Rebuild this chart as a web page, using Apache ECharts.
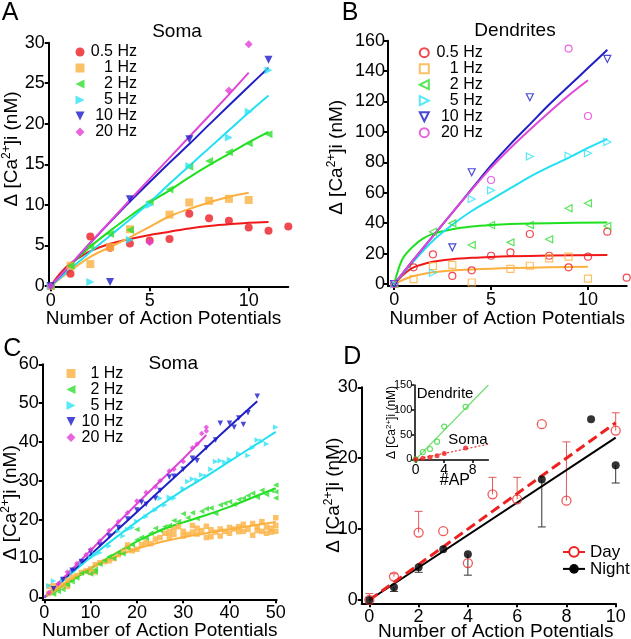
<!DOCTYPE html>
<html><head><meta charset="utf-8">
<script src="https://cdn.jsdelivr.net/npm/echarts@6/dist/echarts.min.js"></script>
<style>html,body{margin:0;padding:0;background:#fff}#c{width:631px;height:639px}</style>
</head><body><div id="c"></div>
<script>
// ---------- Panel A (soma, 0-12 APs) ----------
const freqLabels = ['0.5 Hz', '1 Hz', '2 Hz', '5 Hz', '10 Hz', '20 Hz'];
const a05 = [[0,0],[1,1.5],[2,6.1],[3,4.7],[4,5.25],[5,5.6],[6,5.8],[7,8.9],[8,8.35],[9,8.05],[10,7.2],[11,6.8],[12,7.35]];
const a1 = [[0,0],[1,2.5],[2,2.7],[3,4.8],[4,7.0],[6,8.8],[7,10.3],[8,10.5],[9,10.75],[10,10.6]];
const a2 = [[0,0],[1,2.5],[2,4.9],[3,6.4],[4,6.9],[5,10.4],[6,11.9],[7,14.7],[8,15.4],[9,16.5],[10,17.6],[11,18.7]];
const a5 = [[0,0],[2,0.5],[4,5.7],[5,10.0],[7,14.8],[9,18.3],[10,21.5],[11,26.6]];
const a10 = [[0,0],[3,0.5],[4,10.7],[7,18.1],[11,27.9]];
const a20 = [[0,0],[5,5.4],[9,24.1],[10,29.8]];
const fitA05 = [[0,0],[0.5,1.6],[1,2.8],[1.5,3.6],[2,4.3],[3,5.2],[4,5.8],[5,6.3],[6,6.7],[7,7.1],[8,7.4],[9,7.6],[10,7.8],[11,7.9]];
const fitA1 = [[0,0],[1,1.9],[2,3.6],[3,4.8],[4,6.0],[5,7.3],[6,8.6],[7,9.5],[8,10.3],[9,11.0],[10,11.5]];
const fitA2 = [[0,0],[1,2.6],[2,4.85],[3,6.8],[4,8.6],[5,10.3],[6,11.8],[7,13.4],[8,14.9],[9,16.3],[10,17.7],[11,19.0]];
const fitA5 = [[0,0],[1,2.1],[2,4.2],[3,6.2],[4,8.2],[5,10.3],[6,12.6],[7,14.8],[8,17.0],[9,19.2],[10,21.4],[11,23.5]];
const fitA10 = [[0,0],[1,2.6],[2,5.3],[4,10.4],[6,15.2],[7,17.5],[8,19.9],[10,24.6],[11,26.9]];
const fitA20 = [[0,0],[2,5.3],[4,10.6],[5,13.2],[7,18.4],[9,23.6],[10,26.3]];

// ---------- Panel B (dendrites) ----------
const b05 = [[0,0],[1,11.0],[2,19.5],[3,5.3],[4,9.0],[5,18.6],[6,20.8],[7,32.9],[8,18.6],[9,11.0],[10,18.0],[11,34.4],[12,4.2]];
const b1 = [[0,0],[1,3.2],[2,11.8],[3,12.6],[4,1.0],[6,10.0],[7,12.0],[8,16.8],[9,18.0],[10,3.5]];
const b2 = [[0,0],[2,34.4],[3,39.9],[4,25.7],[5,38.8],[6,27.4],[7,38.8],[8,29.4],[9,49.8],[10,53.1],[11,38.2]];
const b5 = [[0,0],[2,7.4],[4,55.9],[5,61.6],[7,83.8],[9,84.4],[10,86.0],[11,93.4]];
const b10 = [[0,0],[3,24.1],[4,73.5],[7,122.8],[11,148]];
const b20 = [[0,0],[5,68.4],[9,154.8],[10,110.5]];
const fitB05 = [[0,0],[0.5,6.5],[1,11],[2,14.7],[3,16.3],[4,17.2],[5,17.8],[6,18.2],[8,18.7],[11,19.1]];
const fitB1 = [[0,0],[0.5,3],[1,5.3],[2,7.7],[3,8.9],[4,9.6],[5,10.1],[6,10.5],[8,11],[10,11.4]];
const fitB2 = [[0,0],[0.25,11],[0.5,18],[1,25],[1.5,30],[2,33],[3,36],[4,37.8],[5,38.8],[6,39.4],[8,40],[11,40.5]];
const fitB5 = [[0,0],[1,15],[2,28.5],[3,39],[4,48],[5,55.5],[6,63],[7,70.5],[8,77],[9,83],[10,89.5],[11,95.5]];
const fitB10 = [[0,0],[1,16],[2,31.5],[3,47],[4,62.5],[5,78],[6,92],[7,105],[8,118],[9,130],[10,142],[11,154]];
const fitB20 = [[0,0],[1,16],[2,31.5],[3,47],[4,62],[5,76.5],[6,89.5],[7,101.5],[8,113],[9,124],[10,134]];

// ---------- Panel C (soma, 0-50 APs) ----------
const c1 = [[1,1.0],[1,2.8],[2,1.5],[2,3.0],[3,2.4],[4,3.2],[5,2.8],[5,4.4],[6,5.2],[7,5.6],[8,6.4],[9,6.8],[10,6.4],[10,7.3],[11,6.6],[11,8.4],[12,8.9],[13,9.2],[14,9.4],[15,10.0],[16,11.0],[17,11.8],[18,12.8],[18,13.5],[19,12.0],[20,12.4],[21,13.6],[22,14.2],[23,13.8],[24,15.0],[25,15.4],[26,16.5],[27,17.0],[27,15.6],[28,17.6],[28,16.2],[29,18.2],[30,17.0],[30,15.8],[31,16.2],[32,18.5],[32,16.8],[33,17.8],[33,16.3],[34,17.2],[35,18.3],[35,15.4],[36,15.6],[36,17.4],[37,16.8],[38,17.6],[38,15.8],[39,17.0],[40,18.0],[40,16.5],[41,17.6],[42,18.2],[42,16.9],[43,17.0],[43,18.8],[44,17.5],[45,19.0],[45,16.0],[46,18.2],[46,17.2],[47,17.0],[47,19.5],[48,16.5],[48,18.1],[49,17.8],[49,16.8],[50,20.5],[50,18.5],[50,17.0]];
const c2 = [[2,0.8],[3,1.5],[4,2.0],[5,3.2],[6,4.0],[7,5.0],[8,6.2],[9,6.5],[10,6.0],[11,6.5],[11,7.2],[12,8.5],[13,9.5],[14,10.5],[15,10.0],[16,11.5],[17,11.2],[18,12.8],[19,13.5],[20,17.5],[20,14.8],[21,15.5],[22,15.2],[23,16.5],[24,17.8],[25,17.2],[26,18.2],[27,18.5],[28,19.8],[29,19.5],[30,21.5],[31,20.5],[32,21.8],[33,20.3],[34,22.2],[35,22.8],[36,23.0],[37,21.6],[38,23.8],[39,24.2],[40,24.6],[41,24.0],[42,25.2],[43,25.5],[44,26.2],[45,26.8],[46,25.8],[47,27.6],[48,26.5],[49,27.5],[50,28.9],[50,27.2],[50,25.6]];
const c5 = [[1,3.0],[2,4.2],[4,4.5],[6,6.5],[8,8.5],[10,10.2],[11,11.0],[12,11.5],[14,13.2],[16,17.0],[17,15.8],[18,17.5],[19,18.0],[20,19.5],[22,20.8],[24,22.5],[25,25.5],[26,23.8],[27,25.8],[28,25.5],[30,28.0],[31,29.8],[32,30.5],[33,30.2],[34,31.5],[35,31.2],[36,33.0],[37,35.0],[38,35.2],[39,34.8],[40,35.5],[42,37.0],[44,36.5],[45,38.5],[46,40.5],[47,40.2],[48,39.5],[50,43.8]];
const c10 = [[2,2.2],[4,4.6],[6,7.0],[8,9.2],[10,11.8],[12,13.5],[14,15.8],[16,18.0],[18,20.2],[20,22.5],[21,24.5],[22,24.0],[24,25.5],[25,27.5],[27,31.0],[28,31.2],[30,33.0],[32,35.8],[33,35.2],[35,38.5],[37,40.5],[38,44.8],[40,44.8],[41,43.8],[42,46.2],[43,44.5],[44,47.5],[46,51.8]];
const c20 = [[1,1.2],[3,3.5],[5,6.5],[7,8.7],[9,11.0],[10,12.3],[12,14.5],[14,17.2],[16,19.5],[18,21.8],[20,24.8],[22,27.0],[24,28.5],[25,30.0],[27,32.5],[28,33.0],[30,35.0],[32,38.5],[33,39.5],[34,42.2],[35,43.8],[35,42.8]];
const fitC1 = [[0,0],[5,4.0],[10,7.6],[15,10.3],[20,12.5],[25,14.2],[30,15.5],[35,16.5],[40,17.5],[45,18.5],[50,19.4]];
const fitC2 = [[0,0],[5,3.6],[10,7.4],[15,11.0],[20,14.4],[25,17.2],[30,19.3],[35,21.2],[40,23.3],[45,25.7],[50,28.1]];
const fitC5 = [[0,0],[10,10.3],[20,19.5],[25,23.6],[30,27.6],[35,31.2],[40,35.0],[45,38.8],[50,42.6]];
const fitC10 = [[0,0],[10,11],[20,22],[30,33],[40,44],[46,50.5]];
const fitC20 = [[0,0],[10,12.1],[20,24.1],[30,35.7],[35,41.8]];

// ---------- Panel D (day / night) ----------
const dayPts = [[0,0],[1,3.3],[2,9.5],[3,9.7],[4,5.2],[5,14.9],[6,14.2],[7,24.8],[8,14.0],[10,23.9]];
const nightPts = [[0,0],[1,1.8],[2,4.6],[3,7.15],[4,6.45],[7,17.0],[9,25.5],[10,19.0]];
const dayErr = [[0,0,0.9],[1,3.3,3.7],[2,9.5,12.5],[5,14.9,17.3],[6,14.2,17.3],[8,14.0,22.3],[10,23.9,26.4]];
const nightErr = [[1,1.8,1.2],[2,4.6,3.9],[4,6.45,3.5],[7,17.0,10.3],[10,19.0,16.5]];
const dayFit = [[0,0],[10,25.0]];
const nightFit = [[0,0],[10,22.9]];
// inset
const dendPts = [[0,0],[1,14.7],[2,20.8],[3,35.6],[4,66],[7,106]];
const somaPts = [[0,0],[1,2],[2,4],[3,7],[4,11.5],[7,23]];
const dendFit = [[0,0],[10.2,150]];
const somaFit = [[0,0],[10.2,30.5]];

// tick values
const ticksA_x = [0,5,10], ticksA_y = [0,5,10,15,20,25,30];
const ticksB_x = [0,5,10], ticksB_y = [0,20,40,60,80,100,120,140,160];
const ticksC_x = [0,10,20,30,40,50], ticksC_y = [0,10,20,30,40,50,60];
const ticksD_x = [0,2,4,6,8,10], ticksD_y = [0,10,20,30];
const ticksI_x = [0,4,8], ticksI_y = [0,50,100,150];

// ---------- styling ----------
const F = 'Liberation Sans, Arial, Helvetica, sans-serif';
const COL = {red:'#EE1C24', org:'#FBB040', grn:'#2EDE2E', cyn:'#2EE4F4', blu:'#1C1CCC', mag:'#E23ED8'};
const LCOL = {red:'#F01818', org:'#FBB040', grn:'#1EE01E', cyn:'#22E0F2', blu:'#2020C4', mag:'#DE48D6'};
const freqKeys = ['red','org','grn','cyn','blu','mag'];
const TRI_L = 'path://M0,5L10,0L10,10Z';
const TRI_R = 'path://M10,5L0,0L0,10Z';
const TRI_D = 'path://M0,0L10,0L5,10Z';
const symA = ['circle', 'rect', TRI_L, TRI_R, TRI_D, 'diamond'];
const symB = ['circle', 'rect', TRI_L, TRI_R, TRI_D, 'circle'];

const yName = (fs, ss, lh) => ({
  rich: {
    t: {fontSize: fs, fontFamily: F, color: '#000', lineHeight: lh},
    s: {fontSize: ss, fontFamily: F, color: '#000', verticalAlign: 'top'}
  }
});
const Y_NAME = '{t|Δ [Ca}{s|2+}{t|]i (nM)}';

function axis(grid, min, max, ticks, o) {
  o = o || {};
  const ax = {
    type: 'value', gridIndex: grid, min: min, max: max,
    axisLine: {show: true, onZero: false, lineStyle: {color: '#000', width: o.lw || 2}},
    axisTick: {show: true, inside: false, length: o.tl || 4, customValues: ticks, lineStyle: {color: '#000', width: o.lw || 2}},
    axisLabel: {customValues: ticks, fontSize: o.fs || 18, fontFamily: F, color: '#000', margin: o.margin == null ? 5 : o.margin},
    splitLine: {show: false},
    nameMoveOverlap: false
  };
  if (o.name) {
    ax.name = o.name;
    ax.nameLocation = 'middle';
    ax.nameGap = o.gap;
    ax.nameTextStyle = o.nts || {fontSize: 19, fontFamily: F, color: '#000', padding: o.pad || 0};
    if (o.pad && o.nts) ax.nameTextStyle.padding = o.pad;
  }
  return ax;
}

function sc(name, data, g, color, sym, size, open) {
  return {
    type: 'scatter', name: name, data: data, xAxisIndex: g, yAxisIndex: g,
    symbol: sym, symbolSize: size, z: 4, silent: true,
    itemStyle: open ? {color: 'rgba(255,255,255,0)', borderColor: color, borderWidth: 1.2} : {color: color}
  };
}
function ln(name, data, g, color, width, type, smooth) {
  return {
    type: 'line', name: name, data: data, xAxisIndex: g, yAxisIndex: g,
    symbol: 'none', showSymbol: false, smooth: smooth == null ? 0.3 : smooth, z: 3, silent: true,
    lineStyle: {color: color, width: width, type: type || 'solid'}
  };
}
function errBar(color, w) {
  return function (params, api) {
    const x = api.value(0), y0 = api.value(1), y1 = api.value(2);
    const p0 = api.coord([x, y0]), p1 = api.coord([x, y1]);
    return {type: 'group', children: [
      {type: 'line', shape: {x1: p0[0], y1: p0[1], x2: p1[0], y2: p1[1]}, style: {stroke: color, lineWidth: w}},
      {type: 'line', shape: {x1: p1[0] - 4, y1: p1[1], x2: p1[0] + 4, y2: p1[1]}, style: {stroke: color, lineWidth: w}}
    ]};
  };
}
function legendFor(names, left, top, gapH, textW, fs) {
  return {
    show: true, orient: 'vertical', left: left, top: top, padding: 0,
    itemWidth: 9, itemHeight: 9, itemGap: 0, selectedMode: false, data: names,
    formatter: n => '{r|' + n.split('|')[1] + '}',
    textStyle: {fontSize: fs, fontFamily: F, color: '#000', lineHeight: gapH,
      rich: {r: {width: textW, align: 'right', fontSize: fs, fontFamily: F, color: '#000', lineHeight: gapH}}}
  };
}

const series = [];
// A
const aData = [a05, a1, a2, a5, a10, a20];
const aFit = [fitA05, fitA1, fitA2, fitA5, fitA10, fitA20];
aFit.forEach((d, i) => series.push(ln('fitA' + i, d, 0, LCOL[freqKeys[i]], 2)));
aData.forEach((d, i) => series.push(sc('A|' + freqLabels[i], d, 0, COL[freqKeys[i]], symA[i], 8, false)));
// B
const bData = [b05, b1, b2, b5, b10, b20];
const bFit = [fitB05, fitB1, fitB2, fitB5, fitB10, fitB20];
bFit.forEach((d, i) => series.push(ln('fitB' + i, d, 1, LCOL[freqKeys[i]], 2)));
bData.forEach((d, i) => series.push(sc('B|' + freqLabels[i], d, 1, COL[freqKeys[i]], symB[i], 7, true)));
// C
const cData = [c1, c2, c5, c10, c20];
const cFit = [fitC1, fitC2, fitC5, fitC10, fitC20];
cData.forEach((d, i) => series.push(sc('C|' + freqLabels[i + 1], d, 2, COL[freqKeys[i + 1]], symA[i + 1], 5.5, false)));
cFit.forEach((d, i) => series.push(ln('fitC' + i, d, 2, LCOL[freqKeys[i + 1]], 2)));
// D
series.push({type: 'custom', name: 'dayErr', xAxisIndex: 3, yAxisIndex: 3, data: dayErr, renderItem: errBar('#E05A5A', 1), encode: {x: 0, y: [1, 2]}, z: 2, silent: true});
series.push({type: 'custom', name: 'nightErr', xAxisIndex: 3, yAxisIndex: 3, data: nightErr, renderItem: errBar('#333', 1), encode: {x: 0, y: [1, 2]}, z: 2, silent: true});
series.push({type: 'line', name: 'Night', data: nightFit, xAxisIndex: 3, yAxisIndex: 3, symbol: 'circle', symbolSize: 8, showSymbol: false, z: 3, silent: true,
  lineStyle: {color: '#000', width: 2}, itemStyle: {color: '#000'}});
series.push({type: 'line', name: 'Day', data: dayFit, xAxisIndex: 3, yAxisIndex: 3, symbol: 'circle', symbolSize: 8, showSymbol: false, z: 3, silent: true,
  lineStyle: {color: '#EE2020', width: 3, type: [10, 5]}, itemStyle: {color: '#fff', borderColor: '#EE2020', borderWidth: 1.5}});
series.push({type: 'scatter', name: 'nightPts', data: nightPts, xAxisIndex: 3, yAxisIndex: 3, symbol: 'circle', symbolSize: 8, z: 4, silent: true, itemStyle: {color: '#000'}});
series.push({type: 'scatter', name: 'dayPts', data: dayPts, xAxisIndex: 3, yAxisIndex: 3, symbol: 'circle', symbolSize: 9, z: 5, silent: true,
  itemStyle: {color: 'rgba(255,255,255,0)', borderColor: '#EE3030', borderWidth: 1.3}});
// inset
series.push(ln('dendFit', dendFit, 4, '#70DD70', 1.2, 'solid', 0));
series.push(ln('somaFit', somaFit, 4, '#F03030', 1.2, [2, 2], 0));
series.push({type: 'scatter', name: 'dendPts', data: dendPts, xAxisIndex: 4, yAxisIndex: 4, symbol: 'circle', symbolSize: 5, z: 6, silent: true,
  itemStyle: {color: 'rgba(255,255,255,0)', borderColor: '#3ED83E', borderWidth: 1.2}});
series.push({type: 'scatter', name: 'somaPts', data: somaPts, xAxisIndex: 4, yAxisIndex: 4, symbol: 'circle', symbolSize: 5, z: 6, silent: true,
  itemStyle: {color: '#EE2020'}});

const gridBase = {containLabel: false, outerBoundsMode: 'none'};
const XNAME = 'Number of Action Potentials';

const option = {
  animation: false,
  textStyle: {fontFamily: F, color: '#000'},
  grid: [
    Object.assign({left: 48.7, top: 42.7, width: 239.6, height: 244.5}, gridBase),
    Object.assign({left: 388, top: 40.7, width: 238.7, height: 245.3}, gridBase),
    Object.assign({left: 42.7, top: 364.3, width: 234, height: 235}, gridBase),
    Object.assign({left: 361.7, top: 387.3, width: 254, height: 216}, gridBase),
    Object.assign({left: 414.3, top: 385, width: 74.1, height: 75}, gridBase)
  ],
  xAxis: [
    axis(0, -0.1, 12, ticksA_x, {name: XNAME, gap: 22, pad: [0, 10, 0, 0]}),
    axis(1, -0.32, 12, ticksB_x, {name: XNAME, gap: 23}),
    axis(2, -0.35, 50.2, ticksC_x, {name: XNAME, gap: 22}),
    axis(3, -0.31, 10, ticksD_x, {name: XNAME, gap: 18.5, pad: [0, 0, 0, 14]}),
    axis(4, -0.2, 10.2, ticksI_x, {fs: 14, margin: 3, tl: 3, lw: 1.5, name: '#AP', gap: 13,
      nts: {fontSize: 16, fontFamily: F, color: '#000'}, pad: [0, 0, 0, 7]})
  ],
  yAxis: [
    axis(0, -0.15, 30, ticksA_y, {margin: 4, name: Y_NAME, gap: 26, nts: Object.assign(yName(19, 12, 22), {padding: [0, 0, 0, 32]})}),
    axis(1, -1.3, 160, ticksB_y, {margin: 3, name: Y_NAME, gap: 40, nts: Object.assign(yName(19, 12, 22), {padding: [0, 0, 0, 12]})}),
    axis(2, -0.5, 60, ticksC_y, {margin: 4, name: Y_NAME, gap: 21, nts: Object.assign(yName(19, 12, 22), {padding: [0, 42, 0, 0]})}),
    axis(3, -0.47, 30, ticksD_y, {margin: 4, name: Y_NAME, gap: 17, nts: yName(19, 12, 22)}),
    axis(4, -1.4, 150, ticksI_y, {fs: 11, margin: 2, tl: 3, lw: 1.5, name: Y_NAME, gap: 16, nts: yName(12, 8, 14)})
  ],
  legend: [
    legendFor(freqLabels.map(l => 'A|' + l), 75.5, 44, 14.4, 47.5, 16),
    legendFor(freqLabels.map(l => 'B|' + l), 418.8, 44.7, 14.46, 48.9, 16),
    legendFor(freqLabels.slice(1).map(l => 'C|' + l), 66.5, 365.5, 14.9, 42.8, 16),
    {show: true, orient: 'vertical', left: 562, top: 543.4, padding: 0, itemWidth: 22, itemHeight: 12, itemGap: 0,
      selectedMode: false, data: ['Day', 'Night'],
      textStyle: {fontSize: 17, fontFamily: F, color: '#000', lineHeight: 16.6}}
  ],
  graphic: [
    {type: 'text', x: 1.7, y: 13.3, style: {text: 'A', fontSize: 25, fontFamily: F, fill: '#000', align: 'left', verticalAlign: 'middle'}},
    {type: 'text', x: 341.7, y: 13.3, style: {text: 'B', fontSize: 25, fontFamily: F, fill: '#000', align: 'left', verticalAlign: 'middle'}},
    {type: 'text', x: 3.3, y: 349, style: {text: 'C', fontSize: 25, fontFamily: F, fill: '#000', align: 'left', verticalAlign: 'middle'}},
    {type: 'text', x: 343.3, y: 356.7, style: {text: 'D', fontSize: 25, fontFamily: F, fill: '#000', align: 'left', verticalAlign: 'middle'}},
    {type: 'text', x: 177, y: 31.7, style: {text: 'Soma', fontSize: 19, fontFamily: F, fill: '#000', align: 'center', verticalAlign: 'middle'}},
    {type: 'text', x: 515, y: 30.8, style: {text: 'Dendrites', fontSize: 19, fontFamily: F, fill: '#000', align: 'center', verticalAlign: 'middle'}},
    {type: 'text', x: 173.3, y: 363.3, style: {text: 'Soma', fontSize: 19, fontFamily: F, fill: '#000', align: 'center', verticalAlign: 'middle'}},
    {type: 'text', x: 416.7, y: 394, z: 10, style: {text: 'Dendrite', fontSize: 15, fontFamily: F, fill: '#000', align: 'left', verticalAlign: 'middle'}},
    {type: 'text', x: 448.3, y: 440, z: 10, style: {text: 'Soma', fontSize: 15, fontFamily: F, fill: '#000', align: 'left', verticalAlign: 'middle'}}
  ],
  series: series
};

const chart = echarts.init(document.getElementById('c'), null, {renderer: 'canvas'});
chart.setOption(option);
</script></body></html>
